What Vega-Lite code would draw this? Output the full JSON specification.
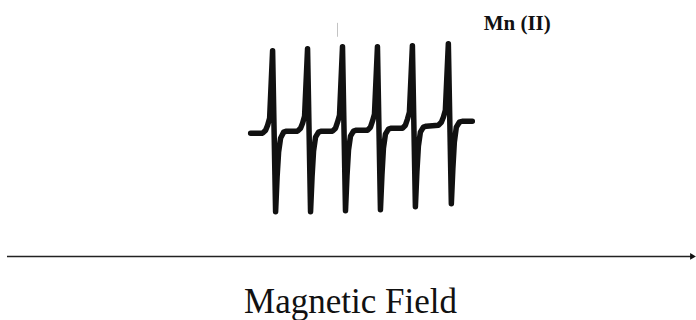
{
  "$schema": "https://vega.github.io/schema/vega-lite/v6.json",
  "width": 696,
  "height": 320,
  "autosize": {"type": "fit", "contains": "padding"},
  "padding": 0,
  "background": "white",
  "config": {"view": {"stroke": null}},
  "data": {"values": [{}]},
  "datasets": {
    "spectrum": [
      {"field": 251, "signal": -4}, {"field": 263, "signal": -4}, {"field": 266, "signal": -1}, {"field": 268, "signal": 4}, {"field": 270, "signal": 11}, {"field": 273, "signal": 79}, {"field": 276, "signal": -83}, {"field": 277.5, "signal": -48}, {"field": 279, "signal": -23}, {"field": 281, "signal": -9}, {"field": 284, "signal": -3}, {"field": 287, "signal": -2},
      {"field": 298, "signal": -2}, {"field": 301, "signal": 1}, {"field": 303, "signal": 6}, {"field": 305, "signal": 13}, {"field": 308, "signal": 81}, {"field": 311, "signal": -83}, {"field": 312.5, "signal": -48}, {"field": 314, "signal": -22}, {"field": 316, "signal": -8}, {"field": 319, "signal": -3}, {"field": 322, "signal": -2},
      {"field": 333, "signal": -2}, {"field": 336, "signal": 1}, {"field": 338, "signal": 7}, {"field": 340, "signal": 14}, {"field": 343, "signal": 83}, {"field": 346, "signal": -82}, {"field": 347.5, "signal": -47}, {"field": 349, "signal": -21}, {"field": 351, "signal": -7}, {"field": 354, "signal": -2}, {"field": 357, "signal": -1},
      {"field": 368, "signal": -1}, {"field": 371, "signal": 2}, {"field": 373, "signal": 8}, {"field": 375, "signal": 15}, {"field": 378, "signal": 83}, {"field": 381, "signal": -81}, {"field": 382.5, "signal": -46}, {"field": 384, "signal": -19}, {"field": 386, "signal": -5}, {"field": 389, "signal": 0}, {"field": 392, "signal": 1},
      {"field": 403, "signal": 1}, {"field": 406, "signal": 4}, {"field": 408, "signal": 10}, {"field": 410, "signal": 17}, {"field": 413, "signal": 84}, {"field": 416, "signal": -78}, {"field": 417.5, "signal": -43}, {"field": 419, "signal": -17}, {"field": 421, "signal": -3}, {"field": 424, "signal": 2}, {"field": 427, "signal": 3},
      {"field": 439, "signal": 4}, {"field": 442, "signal": 7}, {"field": 444, "signal": 12}, {"field": 446, "signal": 19}, {"field": 449, "signal": 86}, {"field": 452, "signal": -75}, {"field": 453.5, "signal": -40}, {"field": 455, "signal": -13}, {"field": 457, "signal": 2}, {"field": 460, "signal": 7}, {"field": 463, "signal": 8}, {"field": 473, "signal": 8}
    ]
  },
  "layer": [
    {
      "data": {"name": "spectrum"},
      "mark": {"type": "line", "color": "#111111", "strokeWidth": 5.5, "strokeJoin": "round", "strokeCap": "round", "interpolate": "linear"},
      "encoding": {
        "x": {"field": "field", "type": "quantitative", "scale": {"domain": [0, 696], "nice": false, "zero": false}, "axis": null},
        "y": {"field": "signal", "type": "quantitative", "scale": {"domain": [-190, 130], "nice": false, "zero": false}, "axis": null}
      }
    },
    {
      "mark": {"type": "rule", "color": "#aaaaaa", "strokeWidth": 1, "opacity": 0.7},
      "encoding": {
        "x": {"datum": 338, "type": "quantitative"},
        "y": {"datum": 107, "type": "quantitative"},
        "y2": {"datum": 93}
      }
    },
    {
      "mark": {"type": "rule", "color": "#222222", "strokeWidth": 1.5},
      "encoding": {
        "x": {"datum": 7, "type": "quantitative"},
        "x2": {"datum": 692},
        "y": {"datum": -128, "type": "quantitative"}
      }
    },
    {
      "mark": {"type": "point", "shape": "triangle-right", "filled": true, "color": "#111111", "size": 45, "opacity": 1},
      "encoding": {
        "x": {"datum": 694, "type": "quantitative"},
        "y": {"datum": -128, "type": "quantitative"}
      }
    },
    {
      "mark": {"type": "text", "text": "Magnetic Field", "font": "Liberation Serif", "fontSize": 35, "color": "#111111", "align": "center", "baseline": "alphabetic"},
      "encoding": {
        "x": {"datum": 351, "type": "quantitative"},
        "y": {"datum": -185, "type": "quantitative"}
      }
    },
    {
      "mark": {"type": "text", "text": "Mn (II)", "font": "Liberation Serif", "fontSize": 21, "fontWeight": "bold", "color": "#111111", "align": "center", "baseline": "alphabetic"},
      "encoding": {
        "x": {"datum": 518, "type": "quantitative"},
        "y": {"datum": 100, "type": "quantitative"}
      }
    }
  ]
}
